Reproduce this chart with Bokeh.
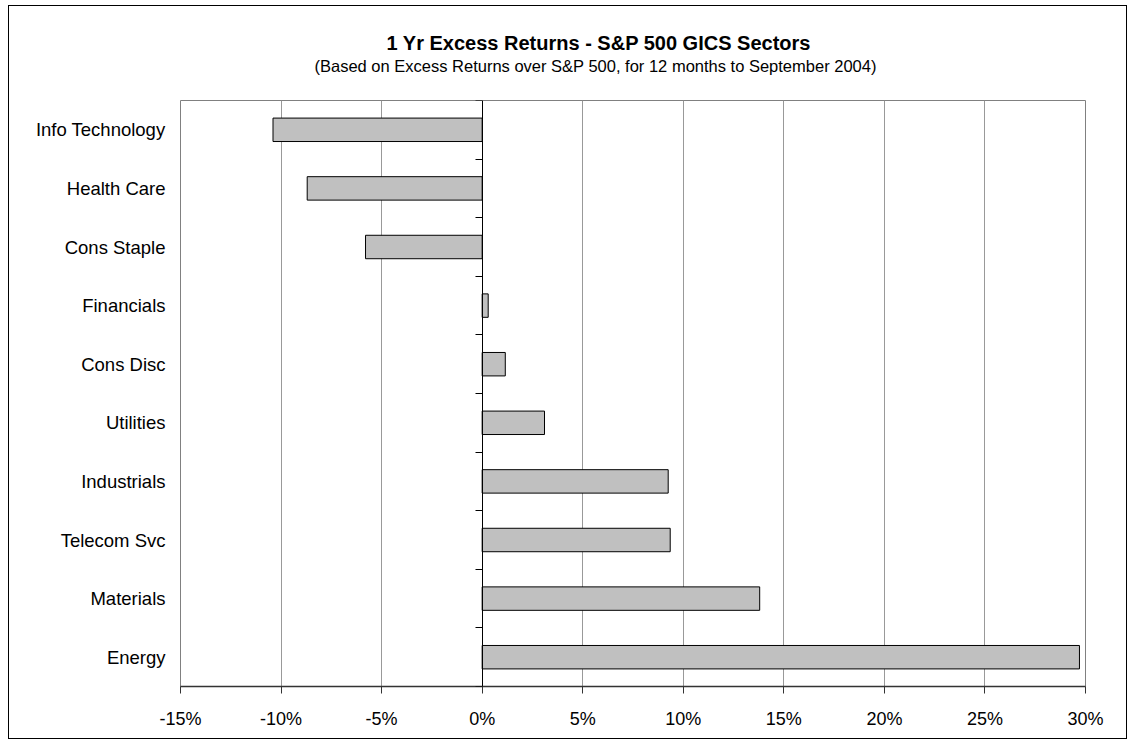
from bokeh.plotting import figure
from bokeh.models import (Range1d, LinearAxis, FixedTicker, PrintfTickFormatter,
                          CustomJSTickFormatter, Title, ColumnDataSource)
from bokeh.embed import file_html
from bokeh.resources import INLINE

# ---- data ----
sectors = ["Info Technology", "Health Care", "Cons Staple", "Financials", "Cons Disc",
           "Utilities", "Industrials", "Telecom Svc", "Materials", "Energy"]
excess_returns = [-10.4, -8.7, -5.8, 0.3, 1.15, 3.1, 9.25, 9.35, 13.8, 29.7]
x_ticks = [-15, -10, -5, 0, 5, 10, 15, 20, 25, 30]
title_text = "1 Yr Excess Returns - S&P 500 GICS Sectors"
subtitle_text = "(Based on Excess Returns over S&P 500, for 12 months to September 2004)"

n = len(sectors)
ypos = [n - 1 - i for i in range(n)]          # first sector at top
boundaries = [i - 0.5 for i in range(n + 1)]  # category boundaries for zero-axis ticks

src = ColumnDataSource(dict(y=ypos, v=excess_returns, name=sectors))

FONT = "Liberation Sans"

p = figure(width=1119, height=734, output_backend="svg", toolbar_location=None,
           x_range=Range1d(x_ticks[0], x_ticks[-1]), y_range=Range1d(-0.5, n - 0.5),
           y_axis_location=None,
           min_border_left=171, min_border_right=43, min_border_top=94, min_border_bottom=54)
p.styles = {"border": "1px solid black", "margin-left": "8px", "margin-top": "5px"}
p.background_fill_color = "white"
p.border_fill_color = "white"
p.outline_line_color = "#808080"
p.outline_line_width = 1

# grid
p.ygrid.visible = False
p.xgrid.grid_line_color = "#999999"
p.xgrid.grid_line_width = 1

# x axis
xa = p.xaxis[0]
xa.ticker = FixedTicker(ticks=x_ticks)
xa.formatter = PrintfTickFormatter(format="%d%%")
xa.axis_line_color = "#333333"
xa.axis_line_width = 1.5
xa.major_tick_line_color = "#333333"
xa.major_tick_out = 7
xa.major_tick_in = 0
xa.minor_tick_line_color = None
xa.major_label_standoff = 15
xa.major_label_text_font = FONT
xa.major_label_text_font_size = "18px"
xa.major_label_text_color = "black"

# category label axis (left)
lab_axis = LinearAxis(ticker=FixedTicker(ticks=ypos),
                      major_label_overrides={y: s for y, s in zip(ypos, sectors)},
                      axis_line_color=None, major_tick_line_color=None,
                      major_tick_out=0, major_tick_in=0, minor_tick_line_color=None,
                      major_label_standoff=15, major_label_text_font=FONT,
                      major_label_text_font_size="18.5px", major_label_text_color="black")
p.add_layout(lab_axis, "left")

# zero axis with ticks between categories
zero_axis = LinearAxis(fixed_location=0, ticker=FixedTicker(ticks=boundaries),
                       formatter=CustomJSTickFormatter(code="return ''"),
                       axis_line_color="black", axis_line_width=1,
                       major_tick_line_color="black", major_tick_out=7, major_tick_in=0,
                       minor_tick_line_color=None, major_label_standoff=0)
p.add_layout(zero_axis, "left")

# bars
p.hbar(y="y", left=0, right="v", height=0.4, source=src,
       fill_color="#c0c0c0", line_color="black", line_width=1)

# titles (stacked outward from the frame: spacer, subtitle, title)
p.add_layout(Title(text=" ", text_font_size="10px", standoff=12), "above")
p.add_layout(Title(text=subtitle_text, align="left", offset=134, standoff=2,
                   text_font=FONT, text_font_size="16.5px", text_font_style="normal",
                   text_color="black"), "above")
p.add_layout(Title(text=title_text, align="left", offset=206, standoff=0,
                   text_font=FONT, text_font_size="20px", text_font_style="bold",
                   text_color="black"), "above")

open("out.html", "w").write(file_html(p, INLINE))
